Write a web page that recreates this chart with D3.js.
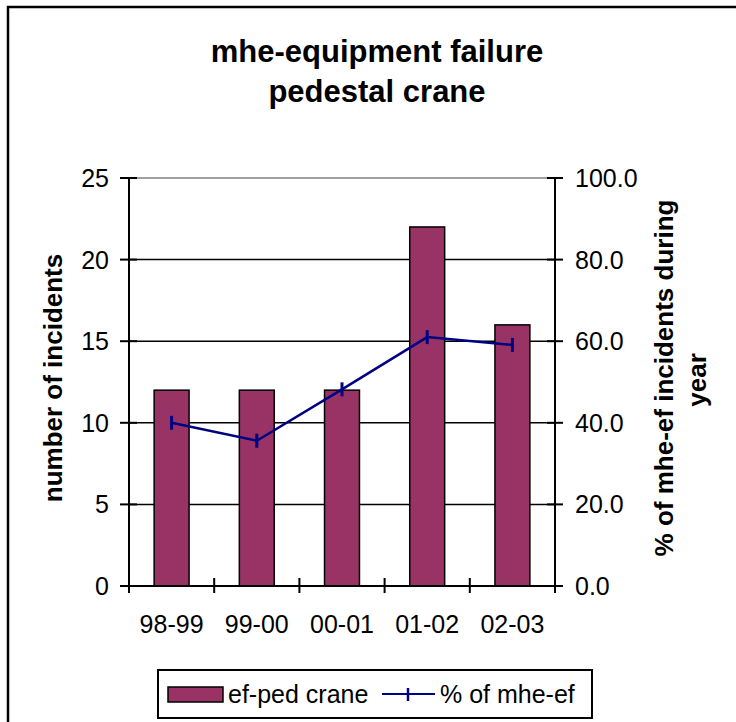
<!DOCTYPE html>
<html>
<head>
<meta charset="utf-8">
<script src="https://cdn.jsdelivr.net/npm/d3@7"></script>
<style>
  body { margin: 0; background: #fff; }
  text { font-family: "Liberation Sans", Arial, sans-serif; fill: #000; }
</style>
</head>
<body>
<svg id="chart"></svg>
<script>
// data
const years = ["98-99", "99-00", "00-01", "01-02", "02-03"];
const incidents = [12, 12, 12, 22, 16];
const pctMheEf = [40.0, 35.6, 48.2, 61.0, 59.1];
const leftTicks = [0, 5, 10, 15, 20, 25];
const rightTicks = [0, 20, 40, 60, 80, 100];

// constants
const width = 736;
const height = 722;
const plot = { left: 129, right: 555, top: 178, bottom: 586 };
const tickFont = 25;

const svg = d3.select('svg#chart').attr('width', width).attr('height', height);

// outer chart border (runs off the right and bottom edge)
svg.append("rect")
    .attr("x", 8).attr("y", 7)
    .attr("width", 740).attr("height", 730)
    .attr("fill", "#fff")
    .attr("stroke", "#000")
    .attr("stroke-width", 2.5);

// title
svg.append("text")
    .attr("x", 377).attr("y", 62)
    .attr("text-anchor", "middle")
    .attr("font-size", 31).attr("font-weight", "bold")
    .text("mhe-equipment failure");
svg.append("text")
    .attr("x", 377).attr("y", 102)
    .attr("text-anchor", "middle")
    .attr("font-size", 31).attr("font-weight", "bold")
    .text("pedestal crane");

// scales
const x = d3.scaleBand().domain(years).range([plot.left, plot.right]).paddingInner(0.59).paddingOuter(0.295);
const xc = d3.scaleBand().domain(years).range([plot.left, plot.right]);
const yL = d3.scaleLinear().domain([0, 25]).range([plot.bottom, plot.top]);
const yR = d3.scaleLinear().domain([0, 100]).range([plot.bottom, plot.top]);

// gridlines
svg.append("g")
  .selectAll("line")
  .data(leftTicks.filter(d => d > 0 && d < 25))
  .join("line")
    .attr("x1", plot.left).attr("x2", plot.right)
    .attr("y1", d => yL(d)).attr("y2", d => yL(d))
    .attr("stroke", "#000").attr("stroke-width", 1.5);

// top border of plot area (gray)
svg.append("line")
    .attr("x1", plot.left).attr("x2", plot.right)
    .attr("y1", plot.top).attr("y2", plot.top)
    .attr("stroke", "#808080").attr("stroke-width", 1.5);

// bars
svg.append("g")
  .selectAll("rect")
  .data(incidents)
  .join("rect")
    .attr("x", (d, i) => x(years[i]))
    .attr("width", x.bandwidth())
    .attr("y", d => yL(d))
    .attr("height", d => yL(0) - yL(d))
    .attr("fill", "#993366")
    .attr("stroke", "#000")
    .attr("stroke-width", 1.5);

// left axis
const gL = svg.append("g").attr("transform", `translate(${plot.left},0)`);
gL.append("line").attr("y1", plot.top).attr("y2", plot.bottom + 7).attr("stroke", "#000").attr("stroke-width", 2);
gL.selectAll("line.tick")
  .data(leftTicks)
  .join("line")
    .attr("class", "tick")
    .attr("x1", -9).attr("x2", 8)
    .attr("y1", d => yL(d)).attr("y2", d => yL(d))
    .attr("stroke", "#000").attr("stroke-width", 2);
gL.selectAll("text")
  .data(leftTicks)
  .join("text")
    .attr("x", -20)
    .attr("y", d => yL(d))
    .attr("dy", "0.36em")
    .attr("text-anchor", "end")
    .attr("font-size", tickFont)
    .text(d => d);

// right axis
const gR = svg.append("g").attr("transform", `translate(${plot.right},0)`);
gR.append("line").attr("y1", plot.top).attr("y2", plot.bottom + 7).attr("stroke", "#000").attr("stroke-width", 2);
gR.selectAll("line.tick")
  .data(rightTicks)
  .join("line")
    .attr("class", "tick")
    .attr("x1", -8).attr("x2", 8)
    .attr("y1", d => yR(d)).attr("y2", d => yR(d))
    .attr("stroke", "#000").attr("stroke-width", 2);
gR.selectAll("text")
  .data(rightTicks)
  .join("text")
    .attr("x", 20)
    .attr("y", d => yR(d))
    .attr("dy", "0.36em")
    .attr("font-size", tickFont)
    .text(d => d3.format(".1f")(d));

// bottom axis
const gB = svg.append("g");
gB.append("line")
    .attr("x1", plot.left).attr("x2", plot.right)
    .attr("y1", plot.bottom).attr("y2", plot.bottom)
    .attr("stroke", "#000").attr("stroke-width", 2);
gB.selectAll("line.tick")
  .data(years.concat(["end"]))
  .join("line")
    .attr("class", "tick")
    .attr("x1", (d, i) => i < years.length ? xc(d) : plot.right)
    .attr("x2", (d, i) => i < years.length ? xc(d) : plot.right)
    .attr("y1", plot.bottom - 8).attr("y2", plot.bottom + 7)
    .attr("stroke", "#000").attr("stroke-width", 2);
gB.selectAll("text")
  .data(years)
  .join("text")
    .attr("x", d => xc(d) + xc.bandwidth() / 2)
    .attr("y", 633)
    .attr("text-anchor", "middle")
    .attr("font-size", tickFont)
    .text(d => d);

// line series
const line = d3.line()
    .x((d, i) => xc(years[i]) + xc.bandwidth() / 2)
    .y(d => yR(d));
svg.append("path")
    .datum(pctMheEf)
    .attr("d", line)
    .attr("fill", "none")
    .attr("stroke", "#000080")
    .attr("stroke-width", 2.5);
svg.append("g")
  .selectAll("line")
  .data(pctMheEf)
  .join("line")
    .attr("x1", (d, i) => xc(years[i]) + xc.bandwidth() / 2)
    .attr("x2", (d, i) => xc(years[i]) + xc.bandwidth() / 2)
    .attr("y1", d => yR(d) - 7).attr("y2", d => yR(d) + 7)
    .attr("stroke", "#000080")
    .attr("stroke-width", 3);

// axis titles
svg.append("text")
    .attr("transform", "translate(62,378) rotate(-90)")
    .attr("text-anchor", "middle")
    .attr("font-size", 26).attr("font-weight", "bold")
    .text("number of incidents");
svg.append("text")
    .attr("transform", "translate(673,378) rotate(-90)")
    .attr("text-anchor", "middle")
    .attr("font-size", 26).attr("font-weight", "bold")
    .text("% of mhe-ef incidents during");
svg.append("text")
    .attr("transform", "translate(706,380) rotate(-90)")
    .attr("text-anchor", "middle")
    .attr("font-size", 26).attr("font-weight", "bold")
    .text("year");

// legend
const lg = svg.append("g");
lg.append("rect")
    .attr("x", 158).attr("y", 670)
    .attr("width", 434).attr("height", 48)
    .attr("fill", "#fff").attr("stroke", "#000").attr("stroke-width", 2);
lg.append("rect")
    .attr("x", 168).attr("y", 687)
    .attr("width", 55).attr("height", 15)
    .attr("fill", "#993366").attr("stroke", "#000").attr("stroke-width", 1.5);
lg.append("text")
    .attr("x", 228).attr("y", 703)
    .attr("font-size", tickFont)
    .text("ef-ped crane");
lg.append("line")
    .attr("x1", 382).attr("x2", 435)
    .attr("y1", 694).attr("y2", 694)
    .attr("stroke", "#000080").attr("stroke-width", 2);
lg.append("line")
    .attr("x1", 408).attr("x2", 408)
    .attr("y1", 688).attr("y2", 701)
    .attr("stroke", "#000080").attr("stroke-width", 2.5);
lg.append("text")
    .attr("x", 440).attr("y", 703)
    .attr("font-size", tickFont)
    .text("% of mhe-ef");
</script>
</body>
</html>
